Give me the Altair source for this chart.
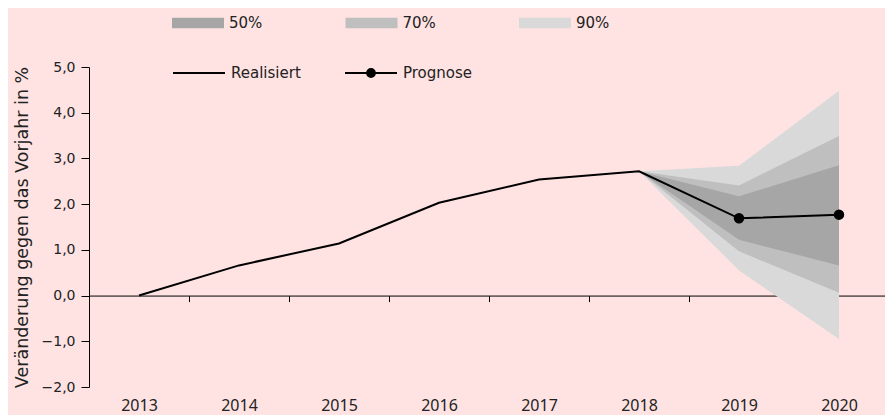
import altair as alt
import pandas as pd

years = ["2013", "2014", "2015", "2016", "2017", "2018", "2019", "2020"]
values = [0.0, 0.66, 1.14, 2.03, 2.54, 2.72, 1.69, 1.77]
forecast_years = ["2019", "2020"]

fan_years = ["2018", "2019", "2020"]
lo90 = [2.72, 0.55, -0.95]
hi90 = [2.72, 2.84, 4.48]
lo70 = [2.72, 0.97, 0.06]
hi70 = [2.72, 2.41, 3.49]
lo50 = [2.72, 1.22, 0.66]
hi50 = [2.72, 2.17, 2.85]

bands = ["50%", "70%", "90%"]
band_colors = ["#a6a6a6", "#bfbfbf", "#d9d9d9"]
series = ["Realisiert", "Prognose"]

FONT = "DejaVu Sans"
TICKFONT = "Liberation Sans Narrow, Noto Sans"
TXT = "#222222"

line_df = pd.DataFrame({"Jahr": years, "Wert": values})
pts_df = line_df[line_df["Jahr"].isin(forecast_years)]

rows = []
for name, lo, hi in [("90%", lo90, hi90), ("70%", lo70, hi70), ("50%", lo50, hi50)]:
    for y, a, b in zip(fan_years, lo, hi):
        rows.append({"Jahr": y, "Band": name, "lo": a, "hi": b})
fan_df = pd.DataFrame(rows)
leg_df = pd.DataFrame({"Reihe": series})

xscale = alt.Scale(type="band", domain=years, paddingInner=0, paddingOuter=0)
yscale = alt.Scale(domain=[-2, 5], nice=False, zero=False)

xaxis = alt.Axis(
    title=None, orient="bottom", offset=-91.43, tickBand="extent", tickSize=6,
    labelPadding=96, labelAngle=0, domainColor="black", tickColor="black",
    labelFont=TICKFONT, labelFontSize=16, labelColor=TXT, grid=False,
)
yaxis = alt.Axis(
    title="Veränderung gegen das Vorjahr in %", values=list(range(-2, 6)),
    labelExpr="replace(format(datum.value, '.1f'), '.', ',')",
    tickSize=8, domainColor="black", tickColor="black", grid=False,
    labelFont=FONT, labelFontSize=14, labelColor=TXT, labelPadding=6,
    titleFont=FONT, titleFontSize=17.5, titleFontWeight="normal", titleColor=TXT,
    titlePadding=10,
)

X = alt.X("Jahr:N", scale=xscale, axis=xaxis)

color_scale = alt.Scale(domain=bands, range=band_colors)
rect_path = "M-1,-0.2H1V0.2H-1Z"

areas = []
for i, name in enumerate(["90%", "70%", "50%"]):
    leg = alt.Legend(
        title=None, orient="none", legendX=83, legendY=-70, direction="horizontal",
        symbolType=rect_path, symbolSize=2704, symbolStrokeWidth=0, symbolOpacity=1,
        labelFont=FONT, labelFontSize=15, labelColor=TXT, labelOffset=5,
        columnPadding=82.5, padding=0,
    )
    areas.append(
        alt.Chart(fan_df).transform_filter(alt.datum.Band == name).mark_area(opacity=1).encode(
            x=X,
            y=alt.Y("lo:Q", scale=yscale, axis=yaxis),
            y2="hi:Q",
            color=alt.Color("Band:N", scale=color_scale, legend=leg),
        )
    )

line = alt.Chart(line_df).mark_line(color="black", strokeWidth=2).encode(
    x=X,
    y=alt.Y("Wert:Q", scale=yscale, axis=yaxis),
)
pts = alt.Chart(pts_df).mark_point(filled=True, color="black", size=110, opacity=1).encode(
    x=X,
    y=alt.Y("Wert:Q", scale=yscale, axis=yaxis),
)

# legend symbols: a line, and a line with a solid dot built from concentric rings
rings = "".join(
    f"M{r},0A{r},{r},0,1,1,{-r},0A{r},{r},0,1,1,{r},0" for r in [0.03, 0.07, 0.11, 0.15]
)
line_path = "M-1,0H1"
prog_path = line_path + rings
dummy = alt.Chart(leg_df).mark_point(
    filled=False, color="black", strokeWidth=2, opacity=0
).encode(
    x=alt.value(0), y=alt.value(0),
    shape=alt.Shape("Reihe:N", scale=alt.Scale(domain=series, range=[line_path, prog_path]),
                    legend=alt.Legend(
                        title=None, orient="none", legendX=83, legendY=-21, direction="horizontal",
                        symbolSize=2704, symbolStrokeWidth=2, symbolOpacity=1,
                        symbolStrokeColor="black", symbolFillColor="transparent",
                        labelFont=FONT, labelFontSize=15, labelColor=TXT, labelOffset=5,
                        columnPadding=40, padding=0,
                    )),
)

chart = alt.layer(*areas, line, pts, dummy).properties(
    width=800, height=320,
    autosize=alt.AutoSizeParams(type="none"),
    padding={"left": 81, "top": 59, "right": -4, "bottom": 28},
    background="#ffe3e3",
).configure_view(stroke=None)

chart.save("out.html", embed_options={"renderer": "svg", "actions": False})
